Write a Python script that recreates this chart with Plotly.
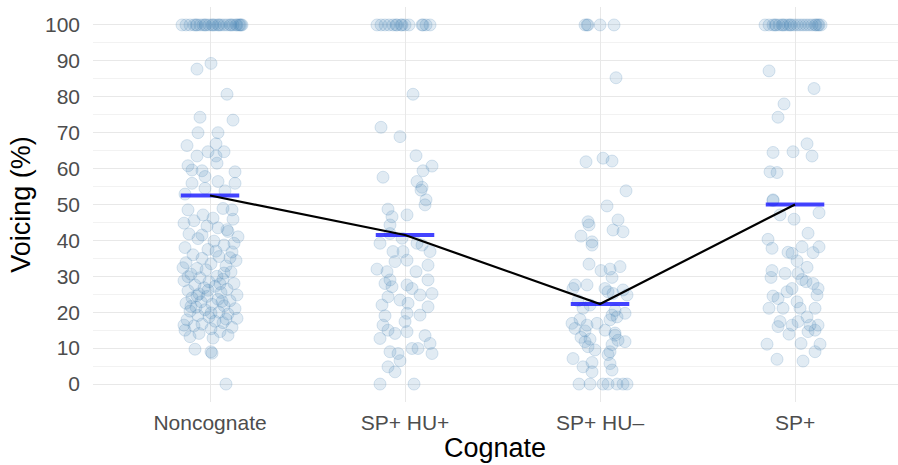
import numpy as np
import plotly.graph_objects as go

categories = ["Noncognate", "SP+ HU+", "SP+ HU–", "SP+"]
means = [52.5, 41.5, 22.3, 50.0]
y_ticks = [0, 10, 20, 30, 40, 50, 60, 70, 80, 90, 100]

# voicing values per category, and horizontal jitter (pixels)
noncog_vals = [100]*28 + [
    89.3, 87.7, 80.7, 74.3, 73.5, 70, 70, 66.4, 66.9, 64.7, 64.7, 63.5, 63.5, 60.8, 59.6, 59.4,
    61.5, 59.1, 57.8, 56.4, 55.9, 55.9, 54.5, 53.8, 52.9,
    48.5, 47.1, 46.2, 48.9, 48.5, 45.5, 44.0, 43.5, 42.5, 41.8, 41.0, 40.5, 39.8, 38.7, 38.0,
    37.5, 36.8, 36.0, 35.5, 35.0, 34.4, 33.8, 33.5, 32.9, 32.2, 31.8, 31.2, 30.6, 30.0, 29.6,
    29.2, 28.8, 28.5, 28.0, 27.6, 27.2, 26.8, 26.4, 26.0, 25.5, 25.1, 24.8, 24.4, 24.0, 23.6,
    23.2, 22.9, 22.5, 22.2, 21.8, 21.4, 21.0, 20.7, 20.3, 20.0, 19.5, 19.1, 18.7, 18.3, 17.9,
    17.5, 17.1, 16.7, 16.2, 15.8, 15.4, 15.0, 14.6, 14.1, 13.6, 13.2, 12.8, 35.2, 32.4, 30.9,
    29.9, 27.9, 26.1, 24.6, 23.0, 21.6, 19.8, 18.1, 16.4, 41.5, 39.2, 37.0, 44.8, 43.0, 45.9,
    9.7, 9.0, 8.6, 0]
noncog_jit = [-28, -24, -20, -16, -13, -10, -7, -4, -1, 2, 5, 8, 11, 14, 17, 20, 23, 26, 29, 31,
              -14, -5, 3, 9, 21, 27, 30, 32] + [
    1, -13, 17, -10, 23, -12, 8, -23, 6, -2, 14, -13, 6, -22, -18, -8,
    7, 25, -5, 8, -18, 25, -5, 15, -25,
    -22, -7, 3, 13, 22, -16, -3, 8, 18, -21, 28, -12, 4, 14, -25,
    -2, 22, -17, 9, -8, 26, -24, 1, 16, -13, -4, 21, -19, 7, -10,
    13, -26, -1, 24, -15, 5, -6, 17, -22, 11, -11, 27, -3, -18, 8,
    20, -9, -24, 2, 14, -14, 25, -5, -20, 9, 18, -12, -1, 27, -23,
    5, 13, -8, -16, 22, 1, -25, 10, -11, 18, -20, 3, 20, -27, 14,
    -22, 10, -2, -13, 12, -19, 1, 16, -26, -8, 24, 6, -26, 17, 23,
    -15, 1, 2, 16]

huplus_vals = [100]*15 + [
    80.7, 71.5, 68.9, 63.6, 60.7, 59.4, 57.6, 56.4, 54.8, 54.0, 51.3, 49.9, 48.7, 46.6, 47.1,
    44.3, 39.2, 38.7, 36.9, 36.9, 36.9, 34.5, 34.1, 33.1, 32.0, 31.3, 31.3, 29.0, 29.0, 27.6,
    27.1, 26.6, 25.2, 24.8, 24.3, 23.4, 22.5, 22.0, 21.5, 19.7, 19.2, 17.4, 16.4, 15.0, 14.6,
    14.1, 12.7, 11.3, 9.9, 9.9, 9.0, 8.5, 8.5, 6.5, 4.8, 3.4, 0, 0,
    41.9, 40.6, 39.2, 28.0, 19.0, 13.5]
huplus_jit = [-28, -24, -20, -16, -12, -8, -4, 0, 4, 17, 21, 25, -9, -3, 18] + [
    8, -24, -5, 11, 27, 18, -22, 12, 17, 16, 21, 20, -17, -13, 2,
    -15, -25, 17, -12, -2, 25, 2, -10, 23, -28, -18, 11, -15, 23, 2,
    -13, 7, 27, 15, -17, -5, 3, -23, 23, 2, 15, 0, -22, -17, 2,
    -10, -25, 25, 7, 13, -15, -7, 27, -5, -17, -10, -25, 9,
    -15, -3, 12, -20, -20, 20]

huminus_vals = [100]*5 + [
    85.3, 61.9, 62.9, 62.1, 53.8, 49.6, 45.2, 44.3, 45.7, 42.9, 42.4, 41.2, 39.6, 38.7, 33.4,
    31.6, 32.0, 32.7, 29.7, 27.6, 27.6, 26.6, 26.6, 25.7, 25.2, 26.2, 24.8, 23.2, 22.0, 21.1,
    20.5, 19.2, 18.7, 19.7, 17.9, 16.9, 15.5, 16.4, 16.9, 14.8, 14.2, 13.6, 12.5, 12.2, 11.8,
    11.8, 10.4, 9.5, 9.0, 8.2, 7.1, 6.0, 4.8, 5.7, 3.9, 3.4, 0, 0, 0, 0, 0, 0, 0,
    18.0, 13.0, 11.0, 15.0]
huminus_jit = [-15, -13, -12, 0, 14] + [
    16, -14, 3, 12, 26, 7, -12, -11, 18, 13, 23, -19, -8, -8, -11,
    1, 10, 20, 12, -25, -13, -27, 5, 8, 13, 23, 27, -22, -10, -17,
    15, 12, 17, 25, 10, -28, -25, -13, -3, -15, 15, 15, -10, 18, 25,
    -15, -12, -5, 10, 8, -27, -8, -17, 10, 12, -8, -21, -10, 3, 8, 17, 23, 27,
    -20, -19, 12, 5]

spplus_vals = [100]*24 + [
    87.2, 82.3, 78.0, 74.3, 66.9, 64.5, 64.7, 63.5, 59.1, 58.9, 51.3, 51.1, 47.1, 45.9, 47.7,
    42.0, 40.3, 37.8, 36.7, 36.4, 38.2, 36.6, 38.2, 34.3, 32.5, 31.6, 30.8, 30.8, 29.7, 29.1,
    28.5, 28.0, 26.6, 26.6, 25.7, 24.5, 23.8, 24.8, 22.9, 21.1, 21.1, 21.1, 21.1, 18.7, 17.4,
    17.4, 16.0, 16.4, 16.4, 16.4, 13.9, 14.6, 15.0, 11.1, 11.3, 11.1, 9.0, 6.9, 6.4]
spplus_jit = [-30, -26, -22, -19, -16, -13, -10, -7, -4, -1, 2, 5, 8, 11, 14, 17, 20, 23, 26,
              -20, -12, -5, 21, 24] + [
    -26, 19, -11, -17, 12, -22, -2, 17, -25, -18, -22, -22, -15, -1, 24,
    13, -27, -23, -7, -3, 7, 18, 24, 2, 12, -23, -10, 3, -24, 7,
    11, 18, 23, -3, -8, -22, -17, 22, 2, -26, -12, 5, 20, 12, 3,
    -15, -17, -3, 15, 23, -6, 13, 20, -28, 6, 25, 20, -18, 8]

values = [noncog_vals, huplus_vals, huminus_vals, spplus_vals]
jitters = [noncog_jit, huplus_jit, huminus_jit, spplus_jit]

PX_PER_CAT = 195.0
BAR_HALF = 0.15

fig = go.Figure()

for i, (vals, jit) in enumerate(zip(values, jitters)):
    n = min(len(vals), len(jit))
    xs = i + np.array(jit[:n]) / PX_PER_CAT
    fig.add_trace(go.Scatter(
        x=xs, y=vals[:n], mode="markers",
        marker=dict(size=12, color="rgba(70,130,180,0.16)",
                    line=dict(color="rgba(70,130,180,0.2)", width=1)),
        hoverinfo="skip", showlegend=False))

bx, by = [], []
for i, m in enumerate(means):
    bx += [i - BAR_HALF, i + BAR_HALF, None]
    by += [m, m, None]
fig.add_trace(go.Scatter(x=bx, y=by, mode="lines",
                         line=dict(color="rgba(20,20,255,0.8)", width=4),
                         hoverinfo="skip", showlegend=False))

fig.add_trace(go.Scatter(x=list(range(len(categories))), y=means, mode="lines",
                         line=dict(color="black", width=2.2),
                         hoverinfo="skip", showlegend=False))

fig.update_layout(
    width=898, height=465,
    margin=dict(l=93, r=0, t=7, b=63),
    paper_bgcolor="white", plot_bgcolor="white",
    font=dict(family="Liberation Sans, Arial, sans-serif"),
    annotations=[dict(text="Cognate", xref="paper", yref="paper", x=(495 - 93) / 805,
                      y=-0.117, xanchor="center", yanchor="middle", showarrow=False,
                      font=dict(size=27, color="black"))],
)
fig.update_xaxes(
    range=[-0.6, 3.528],
    tickmode="array", tickvals=list(range(len(categories))), ticktext=categories,
    tickfont=dict(size=21, color="#4d4d4d"),
    showgrid=True, gridcolor="#e8e8e8", gridwidth=1.3,
    zeroline=False, showline=False, ticks="", ticklabelstandoff=6,
)
fig.update_yaxes(
    range=[-5, 105],
    tickmode="array", tickvals=y_ticks,
    tickfont=dict(size=21, color="#4d4d4d"),
    showgrid=True, gridcolor="#e8e8e8", gridwidth=1.3,
    minor=dict(dtick=10, tick0=5, showgrid=True, gridcolor="#f2f2f2", gridwidth=0.9),
    zeroline=False, showline=False, ticks="", ticklabelstandoff=12,
    title=dict(text="Voicing (%)", font=dict(size=27, color="black"), standoff=6),
)

fig.write_html("out.html")
